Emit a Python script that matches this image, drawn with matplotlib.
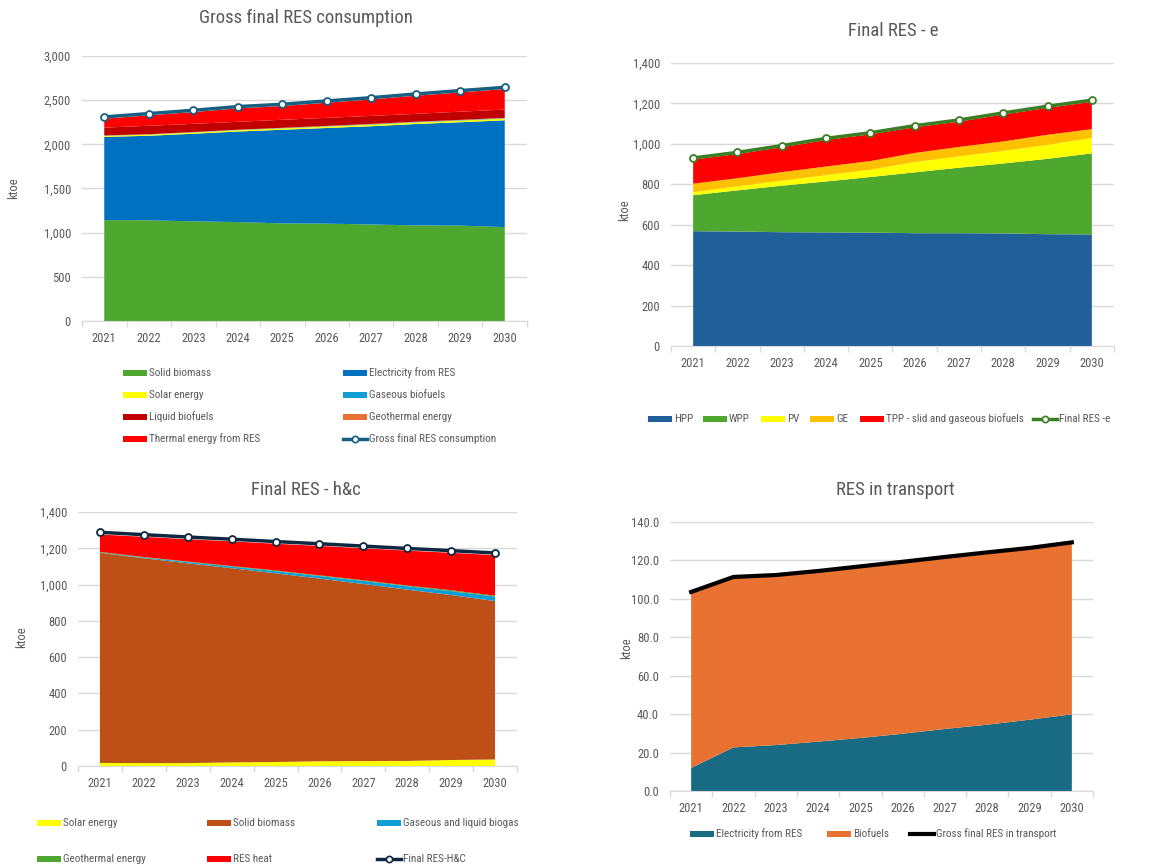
import matplotlib
matplotlib.use("Agg")
import matplotlib.pyplot as plt
from matplotlib import font_manager
from matplotlib.lines import Line2D
from matplotlib.patches import Rectangle
from matplotlib.ticker import FuncFormatter, FixedLocator

# ---------------- data ----------------
years = ["2021", "2022", "2023", "2024", "2025", "2026", "2027", "2028", "2029", "2030"]

# Gross final RES consumption (ktoe)
gross_solid_biomass = [1142, 1140, 1128, 1120, 1105, 1102, 1093, 1082, 1080, 1063]
gross_electricity = [942, 957, 992, 1025, 1060, 1083, 1112, 1148, 1170, 1209]
gross_solar = [12, 13, 14, 15, 16, 17, 18, 18, 19, 20]
gross_gaseous = [3, 3, 3, 4, 4, 4, 5, 5, 5, 5]
gross_geothermal = [2, 2, 2, 2, 2, 3, 3, 3, 3, 3]
gross_liquid = [88, 95, 93, 89, 91, 91, 91, 89, 93, 93]
gross_thermal = [101, 118, 133, 152, 155, 171, 186, 205, 218, 232]
gross_total = [2310, 2348, 2385, 2427, 2453, 2491, 2528, 2570, 2608, 2645]

# Final RES - electricity (ktoe)
e_hpp = [568, 566, 563, 562, 561, 558, 558, 557, 553, 552]
e_wpp = [178, 204, 230, 252, 275, 301, 324, 346, 373, 401]
e_pv = [15, 20, 25, 31, 36, 51, 56, 62, 69, 76]
e_ge = [42, 40, 42, 43, 43, 45, 47, 47, 50, 44]
e_tpp = [119, 120, 123, 131, 132, 127, 125, 133, 133, 135]
e_total = [930, 958, 991, 1027, 1055, 1090, 1118, 1153, 1186, 1216]

# Final RES - heating & cooling (ktoe)
hc_solar = [17, 16, 16, 20, 22, 26, 27, 28, 33, 36]
hc_solid_biomass = [1158, 1129, 1101, 1070, 1040, 1007, 976, 944, 909, 873]
hc_biogas = [2, 4, 7, 9, 12, 14, 17, 19, 22, 25]
hc_geothermal = [3, 3, 3, 3, 4, 4, 4, 4, 5, 5]
hc_res_heat = [96, 111, 123, 136, 147, 162, 176, 192, 206, 223]
hc_total = [1288, 1275, 1262, 1250, 1237, 1225, 1212, 1199, 1187, 1174]

# RES in transport (ktoe)
tr_electricity = [12.0, 22.7, 23.9, 25.7, 27.6, 29.8, 32.3, 34.5, 37.1, 39.9]
tr_biofuels = [91.6, 88.7, 88.5, 88.8, 89.3, 89.5, 89.5, 89.7, 89.4, 89.5]
tr_total = [103.6, 111.4, 112.4, 114.5, 116.9, 119.3, 121.8, 124.2, 126.5, 129.4]

# ---------------- styling ----------------
W, H = 1164, 868
TXT = "#595959"
GRID = "#d9d9d9"

available = {f.name for f in font_manager.fontManager.ttflist}
family = "Liberation Sans"
for cand in ("Roboto Condensed", "Archivo Narrow", "Liberation Sans Narrow", "Arimo"):
    if cand in available:
        family = cand
        break
plt.rcParams["font.family"] = [family, "DejaVu Sans"]

TICK_FS = 9
LEG_FS = 8
TITLE_FS = 13.5

fig = plt.figure(figsize=(W / 100, H / 100), dpi=100)
fig.patch.set_facecolor("white")


def fx(x):
    return x / W


def fy(y):
    return 1 - y / H


def make_axes(left, top, right, bottom):
    return fig.add_axes([fx(left), fy(bottom), fx(right - left), (bottom - top) / H])


def style_axes(ax, ymax, ystep, fmt):
    n = len(years)
    ax.set_xlim(-0.5, n - 0.5)
    ax.set_ylim(0, ymax)
    ax.set_xticks(range(n))
    ax.set_xticklabels(years)
    ax.xaxis.set_minor_locator(FixedLocator([i - 0.5 for i in range(n + 1)]))
    ax.tick_params(axis="x", which="major", length=0, pad=8, labelsize=TICK_FS, labelcolor=TXT)
    ax.tick_params(axis="x", which="minor", length=4, color=GRID, width=1)
    ax.set_yticks([v * ystep for v in range(int(round(ymax / ystep)) + 1)])
    ax.yaxis.set_major_formatter(FuncFormatter(fmt))
    ax.tick_params(axis="y", length=0, pad=8, labelsize=TICK_FS, labelcolor=TXT)
    ax.grid(axis="y", color=GRID, linewidth=1)
    ax.set_axisbelow(True)
    for s in ("top", "right", "left"):
        ax.spines[s].set_visible(False)
    ax.spines["bottom"].set_color(GRID)
    ax.set_facecolor("none")


def patch_entry(x, y, color, label):
    fig.patches.append(Rectangle((fx(x), fy(y + 3)), fx(24), 6 / H, transform=fig.transFigure,
                                 facecolor=color, edgecolor="none"))
    fig.text(fx(x + 26), fy(y), label, fontsize=LEG_FS, color=TXT, va="center", ha="left")


def line_entry(x, y, color, label, marker=True, lw=2.5):
    fig.lines.append(Line2D([fx(x), fx(x + 24)], [fy(y), fy(y)], transform=fig.transFigure,
                            color=color, linewidth=lw))
    if marker:
        fig.lines.append(Line2D([fx(x + 12)], [fy(y)], transform=fig.transFigure, marker="o",
                                markersize=4.5, markerfacecolor="white", markeredgecolor=color,
                                markeredgewidth=1.2, linestyle="none"))
    fig.text(fx(x + 26), fy(y), label, fontsize=LEG_FS, color=TXT, va="center", ha="left")


comma = lambda v, p: f"{v:,.0f}"
onedec = lambda v, p: f"{v:.1f}"
xs = list(range(len(years)))

# ---------------- Gross final RES consumption ----------------
ax1 = make_axes(82, 56, 527, 321)
style_axes(ax1, 3000, 500, comma)
c1 = ["#4ea72e", "#0070c0", "#ffff00", "#0f9ed5", "#e97132", "#c00000", "#ff0000"]
ax1.stackplot(xs, gross_solid_biomass, gross_electricity, gross_solar, gross_gaseous,
              gross_geothermal, gross_liquid, gross_thermal, colors=c1, linewidth=0)
ax1.plot(xs, gross_total, color="#156082", linewidth=2.5, marker="o", markersize=5,
         markerfacecolor="white", markeredgecolor="#156082", markeredgewidth=1.3)
fig.text(fx(306), fy(18), "Gross final RES consumption", fontsize=TITLE_FS, color=TXT, ha="center", va="center")
fig.text(fx(14), fy(188), "ktoe", fontsize=TICK_FS, color=TXT, rotation=90, ha="center", va="center")
leg1 = [("Solid biomass", "#4ea72e"), ("Electricity from RES", "#0070c0"),
        ("Solar energy", "#ffff00"), ("Gaseous biofuels", "#0f9ed5"),
        ("Liquid biofuels", "#c00000"), ("Geothermal energy", "#e97132"),
        ("Thermal energy from RES", "#ff0000")]
for i, (lab, col) in enumerate(leg1):
    row, colm = divmod(i, 2)
    patch_entry(123 if colm == 0 else 343, 373 + row * 22, col, lab)
line_entry(343, 439, "#156082", "Gross final RES consumption")

# ---------------- Final RES - e ----------------
ax2 = make_axes(671, 63, 1114, 346)
style_axes(ax2, 1400, 200, comma)
c2 = ["#215f9a", "#4ea72e", "#ffff00", "#ffc000", "#ff0000"]
ax2.stackplot(xs, e_hpp, e_wpp, e_pv, e_ge, e_tpp, colors=c2, linewidth=0)
ax2.plot(xs, e_total, color="#3a7d22", linewidth=2.5, marker="o", markersize=5,
         markerfacecolor="white", markeredgecolor="#3a7d22", markeredgewidth=1.3)
fig.text(fx(893), fy(31), "Final RES - e", fontsize=TITLE_FS, color=TXT, ha="center", va="center")
fig.text(fx(625), fy(210), "ktoe", fontsize=TICK_FS, color=TXT, rotation=90, ha="center", va="center")
leg2 = [(648, "HPP", "#215f9a"), (703, "WPP", "#4ea72e"), (761, "PV", "#ffff00"),
        (810, "GE", "#ffc000"), (860, "TPP - slid and gaseous biofuels", "#ff0000")]
for x, lab, col in leg2:
    patch_entry(x, 419, col, lab)
line_entry(1033, 419, "#3a7d22", "Final RES -e")

# ---------------- Final RES - h&c ----------------
ax3 = make_axes(78, 512, 517, 766)
style_axes(ax3, 1400, 200, comma)
c3 = ["#ffff00", "#be4f16", "#0f9ed5", "#4ea72e", "#ff0000"]
ax3.stackplot(xs, hc_solar, hc_solid_biomass, hc_biogas, hc_geothermal, hc_res_heat,
              colors=c3, linewidth=0)
ax3.plot(xs, hc_total, color="#0e2841", linewidth=2.5, marker="o", markersize=5,
         markerfacecolor="white", markeredgecolor="#0e2841", markeredgewidth=1.3)
fig.text(fx(306), fy(490), "Final RES - h&c", fontsize=TITLE_FS, color=TXT, ha="center", va="center")
fig.text(fx(22), fy(637), "ktoe", fontsize=TICK_FS, color=TXT, rotation=90, ha="center", va="center")
patch_entry(37, 823, "#ffff00", "Solar energy")
patch_entry(207, 823, "#be4f16", "Solid biomass")
patch_entry(377, 823, "#0f9ed5", "Gaseous and liquid biogas")
patch_entry(37, 859, "#4ea72e", "Geothermal energy")
patch_entry(207, 859, "#ff0000", "RES heat")
line_entry(377, 859, "#0e2841", "Final RES-H&C")

# ---------------- RES in transport ----------------
ax4 = make_axes(670, 522, 1093, 791)
style_axes(ax4, 140, 20, onedec)
c4 = ["#196b84", "#e97132"]
ax4.stackplot(xs, tr_electricity, tr_biofuels, colors=c4, linewidth=0)
ax4.plot(xs, tr_total, color="black", linewidth=3)
fig.text(fx(895), fy(490), "RES in transport", fontsize=TITLE_FS, color=TXT, ha="center", va="center")
fig.text(fx(627), fy(648), "ktoe", fontsize=TICK_FS, color=TXT, rotation=90, ha="center", va="center")
patch_entry(690, 834, "#196b84", "Electricity from RES")
patch_entry(827, 834, "#e97132", "Biofuels")
line_entry(910, 834, "black", "Gross final RES in transport", marker=False, lw=3)

fig.savefig("out.png", dpi=100, facecolor="white")
